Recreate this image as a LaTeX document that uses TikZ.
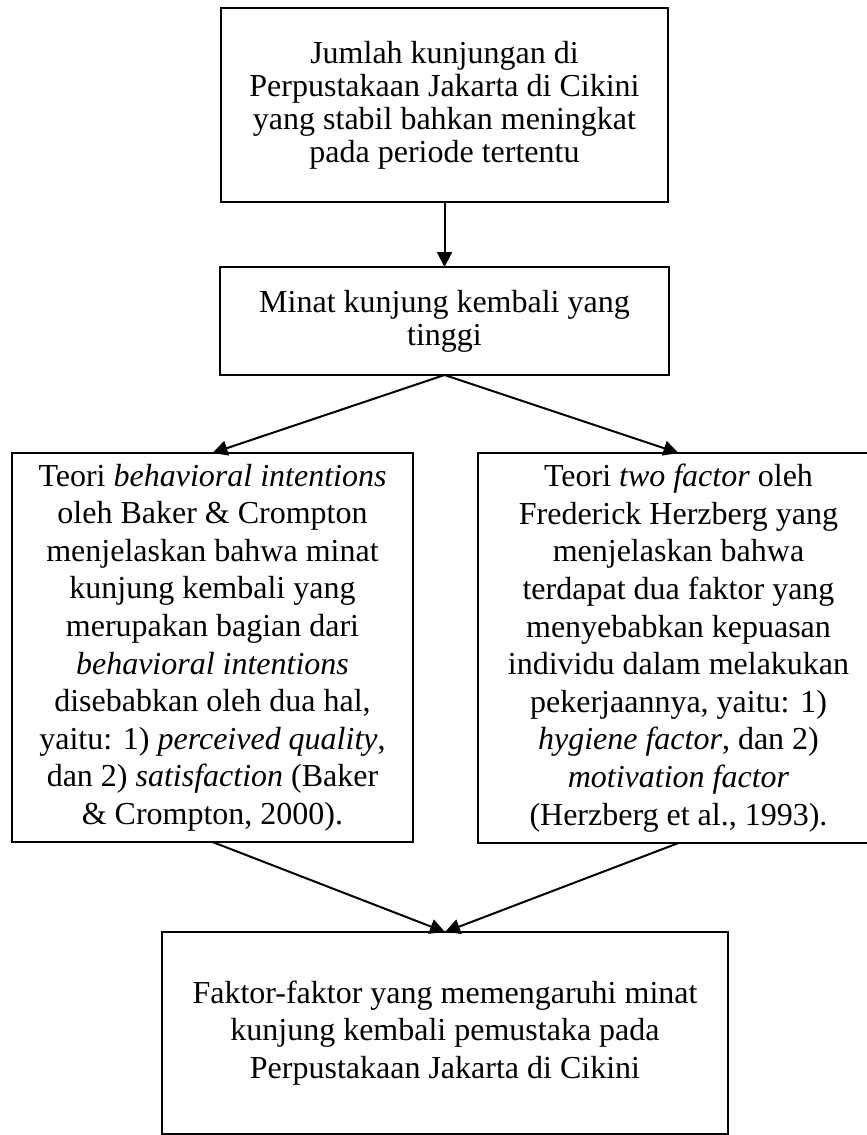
\documentclass[tikz,border=0pt]{standalone}
\usepackage{fontspec}
\setmainfont{Liberation Serif}
\usetikzlibrary{arrows.meta}

\begin{document}
\begin{tikzpicture}[x=0.5pt,y=-0.5pt,
  box/.style={draw, line width=1pt, align=center, inner sep=0pt, outer sep=0pt},
  tight/.style={font=\fontsize{16}{16.5}\selectfont},
  loose/.style={font=\fontsize{16}{18.8}\selectfont},
  arr/.style={line width=1pt, -{Triangle[length=7.5pt,width=7.5pt]}}]
\clip[use as bounding box] (0,0) rectangle (867,1135);
\node[box, tight, minimum width=223.5pt, minimum height=97pt] (jumlah) at (444.5,105)
  {Jumlah kunjungan di\\Perpustakaan Jakarta di Cikini\\yang stabil bahkan meningkat\\pada periode tertentu};
\node[box, tight, minimum width=224.5pt, minimum height=54pt] (minat) at (444.5,321)
  {Minat kunjung kembali yang\\tinggi};
\node[box, loose, minimum width=200.5pt, minimum height=194.5pt] (baker) at (212.5,647.5)
  {Teori \textit{behavioral intentions}\\oleh Baker \& Crompton\\menjelaskan bahwa minat\\kunjung kembali yang\\merupakan bagian dari\\\textit{behavioral intentions}\\disebabkan oleh dua hal,\\yaitu: 1) \textit{perceived quality},\\dan 2) \textit{satisfaction} (Baker\\\& Crompton, 2000).};
\node[box, loose, minimum width=200.5pt, minimum height=195pt] (herzberg) at (678.5,648)
  {Teori \textit{two factor} oleh\\Frederick Herzberg yang\\menjelaskan bahwa\\terdapat dua faktor yang\\menyebabkan kepuasan\\individu dalam melakukan\\pekerjaannya, yaitu: 1)\\\textit{hygiene factor}, dan 2)\\\textit{motivation factor}\\(Herzberg et al., 1993).};
\node[box, loose, minimum width=283pt, minimum height=100.75pt] (faktor) at (445,1032.75)
  {Faktor-faktor yang memengaruhi minat\\kunjung kembali pemustaka pada\\Perpustakaan Jakarta di Cikini};
\draw[arr] (jumlah.south) -- (minat.north);
\draw[arr] (minat.south) -- (baker.north);
\draw[arr] (minat.south) -- (herzberg.north);
\draw[arr] (baker.south) -- (faktor.north);
\draw[arr] (herzberg.south) -- (faktor.north);
\end{tikzpicture}
\end{document}
